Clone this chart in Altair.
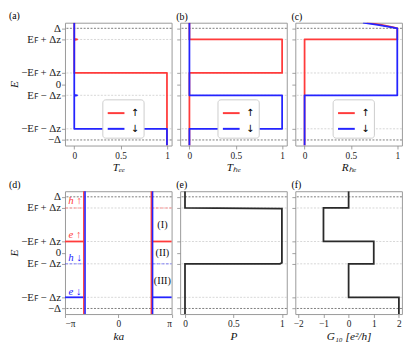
import math
import altair as alt
import pandas as pd

# ---------------- data ----------------
E_TICKS = [1.0, 0.8, 0.2, 0.0, -0.2, -0.8, -1.0]
E_TICK_LABELS = ["Δ", "Eꜰ + Δᴢ", "−Eꜰ + Δᴢ", "0", "Eꜰ − Δᴢ", "−Eꜰ − Δᴢ", "−Δ"]
GRID_DARK = [1.0, -1.0]
GRID_LIGHT = [0.8, 0.2, -0.2, -0.8]
E_DOMAIN = [-1.1, 1.1]

SPINS = ["↑", "↓"]
SPIN_COLORS = ["#ff3b3b", "#2424ff"]

PROB_TICKS = [0, 0.5, 1]
PROB_TICK_LABELS = ["0", "0.5", "1"]
PROB_DOMAIN = [-0.1, 1.05]

# (a) T_ee
TEE_UP_X = [0, 0, 0.03, 0, 0, 1, 1]
TEE_UP_E = [1.1, 0.81, 0.8, 0.79, 0.2, 0.2, -1.1]
TEE_DN_X = [0, 0, 0.03, 0, 0, 1, 1]
TEE_DN_E = [1.1, -0.19, -0.2, -0.21, -0.8, -0.8, -1.1]
# (b) T_he
THE_UP_X = [0, 0, 1, 1, 0, 0]
THE_UP_E = [1.1, 0.8, 0.8, 0.2, 0.2, -1.1]
THE_DN_X = [0, 0, 1, 1, 0, 0]
THE_DN_E = [1.1, -0.2, -0.2, -0.8, -0.8, -1.1]
# (c) R_he
RHE_UP_X = [0.67, 0.83, 0.95, 1, 1, 0, 0]
RHE_UP_E = [1.1, 1.06, 1.02, 1.0, 0.8, 0.8, -1.1]
RHE_DN_X = [0.63, 0.79, 0.93, 1, 1, 0, 0]
RHE_DN_E = [1.1, 1.06, 1.02, 1.0, -0.2, -0.2, -1.1]

# (d) band picture
K_DOMAIN = [-math.pi, math.pi]
K_TICKS = [-math.pi, 0.0, math.pi]
K_TICK_LABELS = ["−π", "0", "π"]
BAND_K = [-2.03, 1.95, -1.96, 2.02]
BAND_COLOR = ["#ff3b3b", "#ff3b3b", "#2424ff", "#2424ff"]
SEG_E = [0.8, 0.2, -0.2, -0.8]
SEG_COLOR = ["#ff3b3b", "#ff3b3b", "#2424ff", "#2424ff"]
SEG_LEFT_END = [-2.03, -2.03, -1.96, -1.96]
SEG_RIGHT_START = [1.95, 1.95, 2.02, 2.02]
SEG_OPACITY = [0.35, 1.0, 0.35, 1.0]
SEG_DASHED = [True, False, True, False]
DLABEL_TEXT = ["h ↑", "e ↑", "h ↓", "e ↓"]
DLABEL_K = [-2.55, -2.55, -2.55, -2.55]
DLABEL_E = [0.92, 0.32, -0.09, -0.70]
DLABEL_COLOR = ["#ff3b3b", "#ff3b3b", "#2424ff", "#2424ff"]
REGION_TEXT = ["(I)", "(II)", "(III)"]
REGION_K = [2.6, 2.6, 2.6]
REGION_E = [0.5, 0.0, -0.5]

# (e) polarisation
P_X = [0, 0, 1, 1, 0.98, 0, 0]
P_E = [1.1, 0.8, 0.79, -0.18, -0.2, -0.2, -1.1]
# (f) conductance
G_X = [0, 0, -1, -1, 1, 1, 0, 0, 2, 2]
G_E = [1.1, 0.8, 0.8, 0.2, 0.2, -0.2, -0.2, -0.8, -0.8, -1.1]
G_TICKS = [-2, -1, 0, 1, 2]
G_TICK_LABELS = ["−2", "−1", "0", "1", "2"]
G_DOMAIN = [-2.12, 2.12]

FONT = "Liberation Serif"
W, H = 108.5, 125


def label_expr(vals, labels):
    expr = "''"
    for v, l in reversed(list(zip(vals, labels))):
        expr = f"datum.value == {v!r} ? '{l}' : ({expr})"
    return expr


def y_enc(show_labels, field="E"):
    axis = alt.Axis(
        values=E_TICKS,
        labels=show_labels,
        labelExpr=label_expr(E_TICKS, E_TICK_LABELS),
        title="E" if show_labels else None,
        grid=False,
        domain=False,
        tickSize=3.5,
        labelFontSize=11,
        labelPadding=1,
        titleFontSize=11.5,
        titleFontStyle="italic",
        titleX=-51,
        titleY=H / 2,
        titleAngle=270,
        titleAlign="center",
        titleBaseline="middle",
    )
    return alt.Y(f"{field}:Q", scale=alt.Scale(domain=E_DOMAIN, nice=False, zero=False), axis=axis)


def x_enc(domain, vals, labels, title, field="x"):
    axis = alt.Axis(
        values=vals,
        labelExpr=label_expr(vals, labels),
        title=title,
        grid=False,
        domain=False,
        tickSize=3.5,
        labelFontSize=9.5,
        labelPadding=1.5,
        titleFontSize=11.5,
        titleFontStyle="italic",
        titlePadding=2,
    )
    return alt.X(f"{field}:Q", scale=alt.Scale(domain=domain, nice=False, zero=False), axis=axis)


def grid_layers(yshow):
    dark = alt.Chart(pd.DataFrame({"E": GRID_DARK})).mark_rule(
        color="#444", strokeWidth=0.7, strokeDash=[2, 1.5]
    ).encode(y=y_enc(yshow))
    light = alt.Chart(pd.DataFrame({"E": GRID_LIGHT})).mark_rule(
        color="#c4c4c4", strokeWidth=0.7, strokeDash=[2, 1.5]
    ).encode(y=y_enc(yshow))
    return [light, dark]


def curve_df(xs, es, spin=None):
    d = pd.DataFrame({"x": xs, "E": es, "i": list(range(len(xs)))})
    if spin is not None:
        d["spin"] = spin
    return d


legend_def = alt.Legend(
    title=None, orient="none", legendX=38, legendY=78,
    fillColor="white", strokeColor="#cccccc", padding=4, cornerRadius=3,
    symbolType="stroke", symbolStrokeWidth=2, symbolSize=290,
    labelFontSize=10, labelFont="DejaVu Sans", rowPadding=1, labelOffset=5,
)


def title_of(tag):
    return alt.TitleParams(tag, anchor="start", fontSize=10, font=FONT, fontWeight="normal", offset=1)


def spin_panel(up, dn, xtitle, yshow, tag):
    xe = x_enc(PROB_DOMAIN, PROB_TICKS, PROB_TICK_LABELS, xtitle)
    col = alt.Color("spin:N", scale=alt.Scale(domain=SPINS, range=SPIN_COLORS), legend=legend_def)
    layers = grid_layers(yshow)
    for xs, es, s in [(up[0], up[1], SPINS[0]), (dn[0], dn[1], SPINS[1])]:
        layers.append(
            alt.Chart(curve_df(xs, es, s)).mark_line(strokeWidth=1.8, clip=True, strokeJoin="round").encode(
                x=xe, y=y_enc(yshow), order="i:Q", color=col
            )
        )
    return alt.layer(*layers).properties(width=W, height=H, title=title_of(tag))


def black_panel(xs, es, domain, vals, labels, xtitle, tag):
    xe = x_enc(domain, vals, labels, xtitle)
    layers = grid_layers(False)
    layers.append(
        alt.Chart(curve_df(xs, es)).mark_line(strokeWidth=1.8, color="#2a2a2a", clip=True).encode(
            x=xe, y=y_enc(False), order="i:Q"
        )
    )
    return alt.layer(*layers).properties(width=W, height=H, title=title_of(tag))


pa = spin_panel((TEE_UP_X, TEE_UP_E), (TEE_DN_X, TEE_DN_E), "Tₑₑ", True, "(a)")
pb = spin_panel((THE_UP_X, THE_UP_E), (THE_DN_X, THE_DN_E), "Tₕₑ", False, "(b)")
pc = spin_panel((RHE_UP_X, RHE_UP_E), (RHE_DN_X, RHE_DN_E), "Rₕₑ", False, "(c)")

# (d)
xe_d = x_enc(K_DOMAIN, K_TICKS, K_TICK_LABELS, "ka")
seg_rows = []
for e, c, l, r, o, dsh in zip(SEG_E, SEG_COLOR, SEG_LEFT_END, SEG_RIGHT_START, SEG_OPACITY, SEG_DASHED):
    seg_rows.append({"E": e, "c": c, "x": K_DOMAIN[0], "x2": l, "o": o, "d": dsh})
    seg_rows.append({"E": e, "c": c, "x": r, "x2": K_DOMAIN[1], "o": o, "d": dsh})
seg_df = pd.DataFrame(seg_rows)
d_layers = grid_layers(True)
d_layers.append(
    alt.Chart(seg_df[seg_df.d]).mark_rule(strokeWidth=1.6, strokeDash=[3, 1.5]).encode(
        x=xe_d, x2="x2:Q", y=y_enc(True), color=alt.Color("c:N", scale=None),
        opacity=alt.Opacity("o:Q", scale=None)
    )
)
d_layers.append(
    alt.Chart(seg_df[~seg_df.d]).mark_rule(strokeWidth=1.8).encode(
        x=xe_d, x2="x2:Q", y=y_enc(True), color=alt.Color("c:N", scale=None),
        opacity=alt.Opacity("o:Q", scale=None)
    )
)
d_layers.append(
    alt.Chart(pd.DataFrame({"x": BAND_K, "c": BAND_COLOR})).mark_rule(strokeWidth=1.6).encode(
        x=xe_d, color=alt.Color("c:N", scale=None)
    )
)
d_layers.append(
    alt.Chart(pd.DataFrame({"x": DLABEL_K, "E": DLABEL_E, "t": DLABEL_TEXT, "c": DLABEL_COLOR})).mark_text(
        font=FONT, fontStyle="italic", fontSize=11, baseline="middle", align="center"
    ).encode(x=xe_d, y=y_enc(True), text="t:N", color=alt.Color("c:N", scale=None))
)
d_layers.append(
    alt.Chart(pd.DataFrame({"x": REGION_K, "E": REGION_E, "t": REGION_TEXT})).mark_text(
        font=FONT, fontSize=10.5, baseline="middle", align="center", color="#111"
    ).encode(x=xe_d, y=y_enc(True), text="t:N")
)
pd_ = alt.layer(*d_layers).properties(width=W, height=H, title=title_of("(d)"))

pe = black_panel(P_X, P_E, [-0.05, 1.05], PROB_TICKS, PROB_TICK_LABELS, "P", "(e)")
pf = black_panel(G_X, G_E, G_DOMAIN, G_TICKS, G_TICK_LABELS, "G₁₀ [e²/h]", "(f)")

chart = alt.concat(
    pa, pb, pc, pd_, pe, pf, columns=3, spacing={"row": 46.5, "column": 8.2}, bounds="flush"
).resolve_scale(color="independent").configure(
    font=FONT,
    padding={"left": 0, "top": 0, "right": 0, "bottom": 0},
).configure_view(
    stroke="#999", strokeWidth=1
).configure_axis(
    labelFont=FONT, titleFont=FONT, tickColor="#888", tickWidth=0.8, labelColor="#222", titleColor="#111",
    titleFontWeight="normal"
)

chart.save("out.html", embed_options={"renderer": "svg", "actions": False})
